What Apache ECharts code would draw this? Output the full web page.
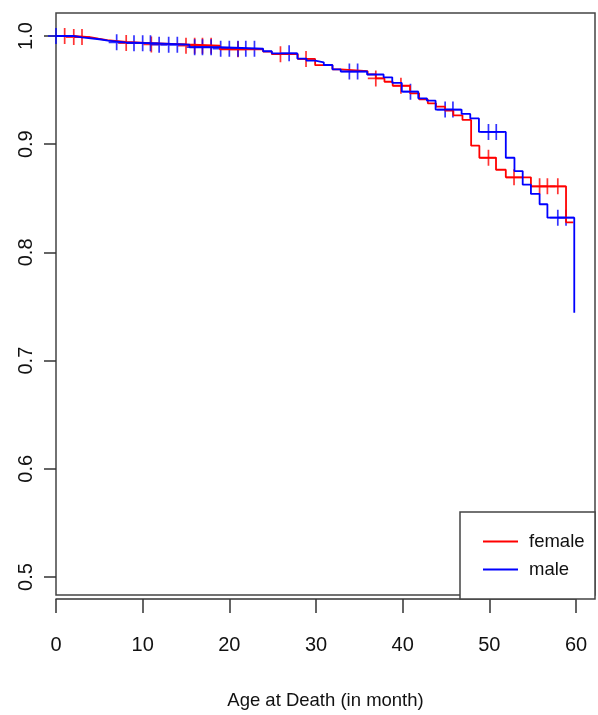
<!DOCTYPE html>
<html>
<head>
<meta charset="utf-8">
<script src="https://cdn.jsdelivr.net/npm/echarts@6/dist/echarts.min.js"></script>
<style>
  html, body { margin: 0; padding: 0; background: #fff; }
  #chart { width: 598px; height: 715px; }
</style>
</head>
<body>
<div id="chart"></div>
<script>
// Kaplan-Meier steps: time (month) where survival drops, value after the drop
const femaleTimes = [0, 2.0, 3.9, 4.9, 5.9, 8.1, 10.9, 15.0, 18.9, 23.9, 24.9, 27.9, 29.9, 31.9, 32.85, 35.96, 36.9, 37.9, 38.85, 40.85, 41.9, 42.9, 43.85, 44.9, 45.85, 46.9, 47.9, 48.85, 50.77, 51.9, 54.8, 58.85, 59.7];
const femaleSurv = [1, 0.9990, 0.9975, 0.9962, 0.9945, 0.9935, 0.9922, 0.9910, 0.9877, 0.9855, 0.9832, 0.9788, 0.9730, 0.9692, 0.9675, 0.9645, 0.9608, 0.9577, 0.9540, 0.9470, 0.9415, 0.9378, 0.9347, 0.9310, 0.9267, 0.9224, 0.8986, 0.8875, 0.8764, 0.8694, 0.8611, 0.8278, 0.8278];
const femaleCensor = [1, 2.05, 3, 8.1, 11, 15, 16, 16.9, 17.9, 21, 25.9, 28.85, 36.9, 39.8, 49.9, 52.85, 55.8, 56.7, 57.9];

const maleTimes = [0, 2.0, 3.0, 5.0, 6.0, 8.0, 11.0, 15.4, 18.9, 23.9, 24.9, 27.85, 28.9, 29.9, 30.9, 31.9, 32.85, 35.9, 37.8, 38.8, 39.9, 41.8, 42.8, 43.8, 46.8, 47.8, 48.8, 51.9, 52.9, 53.85, 54.8, 55.8, 56.7, 59.8];
const maleSurv = [1, 0.9988, 0.9970, 0.9957, 0.9942, 0.9933, 0.9920, 0.9896, 0.9882, 0.9859, 0.9840, 0.9791, 0.9772, 0.9757, 0.9732, 0.9692, 0.9672, 0.9644, 0.9618, 0.9566, 0.9485, 0.9424, 0.9402, 0.9320, 0.9280, 0.9238, 0.9113, 0.8875, 0.8752, 0.8626, 0.8540, 0.8445, 0.8321, 0.7443];
const maleCensor = [0, 7, 9, 10, 10.9, 11.9, 13, 14, 16, 16.9, 17.9, 19, 20, 21, 21.9, 22.9, 26.9, 33.85, 34.8, 40.9, 44.9, 45.8, 49.9, 50.8, 57.9, 58.85];

const xTicks = [0, 10, 20, 30, 40, 50, 60];
const yTicks = [0.5, 0.6, 0.7, 0.8, 0.9, 1.0];

const FONT = '"Liberation Sans", Arial, sans-serif';
const RED = '#ff0000';
const BLUE = '#0000ff';

function pairs(xs, ys) {
  return xs.map((x, i) => [x, ys[i]]);
}
// survival value of the step curve at time t
function survAt(times, surv, t) {
  let s = surv[0];
  for (let i = 0; i < times.length; i++) {
    if (times[i] <= t) s = surv[i];
  }
  return s;
}
function censorPoints(cens, times, surv) {
  return cens.map(t => [t, survAt(times, surv, t)]);
}

const plus = 'path://M0,-1L0,1M-1,0L1,0';

let myChart = echarts.init(document.getElementById('chart'));
let option = {
  animation: false,
  backgroundColor: '#fff',
  grid: [
    // frame of the plot region
    { left: 56, top: 13, width: 539, height: 586, show: true, borderColor: '#444', borderWidth: 1.5, backgroundColor: 'transparent' },
    // region spanned by the ticks (0-60, 0.5-1.0)
    { left: 56, top: 36, width: 520, height: 541 }
  ],
  xAxis: [
    {
      gridIndex: 0, type: 'value', min: 0, max: 62.19,
      axisLine: { show: false }, axisTick: { show: false }, axisLabel: { show: false }, splitLine: { show: false },
      name: 'Age at Death (in month)', nameLocation: 'middle', nameGap: 96,
      nameTextStyle: { fontFamily: FONT, fontSize: 18.5, color: '#111' }
    },
    {
      gridIndex: 1, type: 'value', min: xTicks[0], max: xTicks[xTicks.length - 1], interval: 10,
      offset: 22,
      axisLine: { show: true, lineStyle: { color: '#333', width: 1.5 } },
      axisTick: { show: true, length: 14, lineStyle: { color: '#333', width: 1.5 } },
      axisLabel: { margin: 36, fontFamily: FONT, fontSize: 20, color: '#111' },
      splitLine: { show: false }
    }
  ],
  yAxis: [
    {
      gridIndex: 0, type: 'value', min: 0.4797, max: 1.0213,
      axisLine: { show: false }, axisTick: { show: false }, axisLabel: { show: false }, splitLine: { show: false }
    },
    {
      gridIndex: 1, type: 'value', min: yTicks[0], max: yTicks[yTicks.length - 1], interval: 0.1,
      axisLine: { show: false },
      axisTick: { show: true, length: 12, lineStyle: { color: '#333', width: 1.5 } },
      axisLabel: { margin: 20, rotate: 90, fontFamily: FONT, fontSize: 20, color: '#111',
        formatter: v => v.toFixed(1) },
      splitLine: { show: false }
    }
  ],
  legend: {
    data: ['female', 'male'],
    orient: 'vertical',
    left: 478, top: 527,
    z: 20,
    icon: 'rect', itemWidth: 35, itemHeight: 2, itemGap: 9,
    textStyle: { fontFamily: FONT, fontSize: 18.5, color: '#111', padding: [0, 0, 0, 6] }
  },
  graphic: [
    { type: 'rect', shape: { x: 460, y: 512, width: 135, height: 87 },
      style: { fill: '#fff', stroke: '#444', lineWidth: 1.5 }, z: 3 }
  ],
  series: [
    {
      name: 'female', type: 'line', xAxisIndex: 1, yAxisIndex: 1, step: 'end',
      symbol: 'none', showSymbol: false, clip: false,
      data: pairs(femaleTimes, femaleSurv),
      itemStyle: { color: RED }, lineStyle: { color: RED, width: 1.8 }
    },
    {
      name: 'female censored', type: 'scatter', xAxisIndex: 1, yAxisIndex: 1, clip: false,
      symbol: plus, symbolSize: 16,
      data: censorPoints(femaleCensor, femaleTimes, femaleSurv),
      itemStyle: { color: 'none', borderColor: RED, borderWidth: 1.7 }
    },
    {
      name: 'male', type: 'line', xAxisIndex: 1, yAxisIndex: 1, step: 'end',
      symbol: 'none', showSymbol: false, clip: false,
      data: pairs(maleTimes, maleSurv),
      itemStyle: { color: BLUE }, lineStyle: { color: BLUE, width: 1.8 }
    },
    {
      name: 'male censored', type: 'scatter', xAxisIndex: 1, yAxisIndex: 1, clip: false,
      symbol: plus, symbolSize: 16,
      data: censorPoints(maleCensor, maleTimes, maleSurv),
      itemStyle: { color: 'none', borderColor: BLUE, borderWidth: 1.7 }
    }
  ]
};
myChart.setOption(option);
</script>
</body>
</html>
